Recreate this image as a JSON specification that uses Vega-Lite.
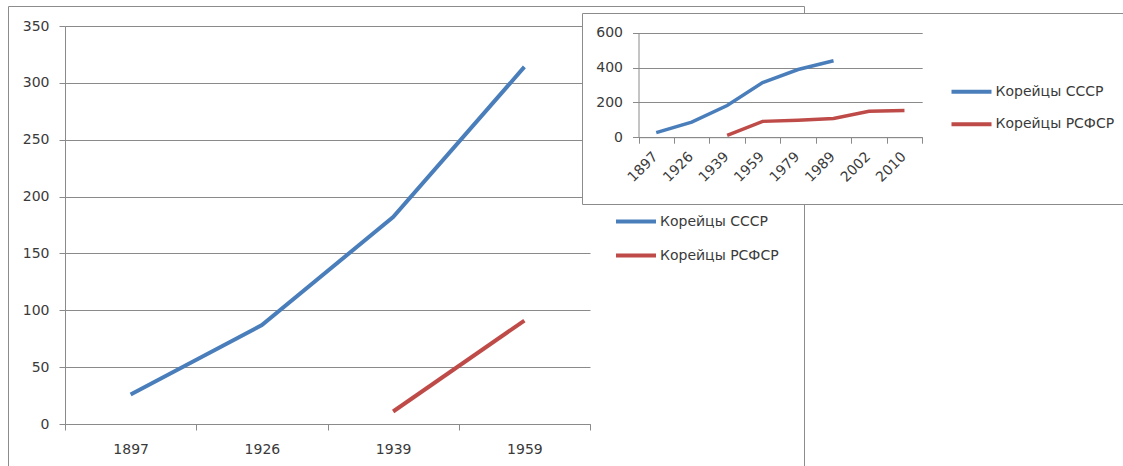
{
  "$schema": "https://vega.github.io/schema/vega-lite/v6.json",
  "padding": {"left": 7, "top": 5, "right": 0, "bottom": 0},
  "background": "white",
  "config": {
    "font": "DejaVu Sans",
    "axis": {"labelFont": "DejaVu Sans", "labelFontSize": 14, "labelColor": "#3a3a3a", "domainColor": "#8a8a8a", "tickColor": "#8a8a8a", "gridColor": "#8a8a8a", "gridOpacity": 1, "domainWidth": 1, "tickWidth": 1, "gridWidth": 1, "title": null},
    "legend": {"labelFont": "DejaVu Sans", "labelFontSize": 14, "labelColor": "#3a3a3a", "symbolType": "stroke", "symbolSize": 1600, "symbolStrokeWidth": 4, "labelOffset": 2, "padding": 0, "title": null},
    "view": {"stroke": "#8c8c8c"}
  },
  "datasets": {
    "main": [
      {"year": "1897", "series": "Корейцы СССР", "value": 26},
      {"year": "1926", "series": "Корейцы СССР", "value": 87},
      {"year": "1939", "series": "Корейцы СССР", "value": 182},
      {"year": "1959", "series": "Корейцы СССР", "value": 314},
      {"year": "1939", "series": "Корейцы РСФСР", "value": 11},
      {"year": "1959", "series": "Корейцы РСФСР", "value": 91}
    ],
    "inset": [
      {"year": "1897", "series": "Корейцы СССР", "value": 26},
      {"year": "1926", "series": "Корейцы СССР", "value": 87},
      {"year": "1939", "series": "Корейцы СССР", "value": 182},
      {"year": "1959", "series": "Корейцы СССР", "value": 314},
      {"year": "1979", "series": "Корейцы СССР", "value": 389},
      {"year": "1989", "series": "Корейцы СССР", "value": 439},
      {"year": "1939", "series": "Корейцы РСФСР", "value": 11},
      {"year": "1959", "series": "Корейцы РСФСР", "value": 91},
      {"year": "1979", "series": "Корейцы РСФСР", "value": 97},
      {"year": "1989", "series": "Корейцы РСФСР", "value": 107},
      {"year": "2002", "series": "Корейцы РСФСР", "value": 149},
      {"year": "2010", "series": "Корейцы РСФСР", "value": 153}
    ]
  },
  "columns": 2,
  "align": "none",
  "spacing": -229,
  "resolve": {"scale": {"color": "independent", "x": "independent", "y": "independent"}, "legend": {"color": "independent"}},
  "concat": [
    {
      "width": 796,
      "height": 460.5,
      "view": {"fill": "white", "stroke": "#8c8c8c"},
      "data": {"name": "main"},
      "mark": {"type": "line", "strokeWidth": 4},
      "encoding": {
        "x": {"field": "year", "type": "ordinal",
          "scale": {"type": "band", "domain": ["1897", "1926", "1939", "1959"], "range": [57, 582], "paddingInner": 0, "paddingOuter": 0},
          "axis": {"offset": -42.5, "tickBand": "extent", "tickSize": 6, "labelPadding": 12, "labelAngle": 0}},
        "y": {"field": "value", "type": "quantitative",
          "scale": {"domain": [0, 350], "range": [418, 20], "nice": false},
          "axis": {"offset": -57, "values": [0, 50, 100, 150, 200, 250, 300, 350], "grid": true, "tickSize": 6, "labelPadding": 10}},
        "color": {"field": "series", "type": "nominal",
          "scale": {"domain": ["Корейцы СССР", "Корейцы РСФСР"], "range": ["#4A7EBB", "#BE4B48"]},
          "legend": {"orient": "none", "legendX": 606, "legendY": 193.5, "rowPadding": 4}}
      }
    },
    {
      "spacing": 5,
      "resolve": {"scale": {"color": "independent", "x": "independent", "y": "independent"}, "legend": {"color": "independent"}},
      "vconcat": [
        {
          "width": 1,
          "height": 1,
          "view": {"fill": null, "stroke": null},
          "data": {"values": []},
          "mark": "point"
        },
        {
          "width": 545,
          "height": 191,
          "view": {"fill": "white", "stroke": "#8c8c8c"},
          "data": {"name": "inset"},
          "mark": {"type": "line", "strokeWidth": 3.5},
          "encoding": {
            "x": {"field": "year", "type": "ordinal",
              "scale": {"type": "band", "domain": ["1897", "1926", "1939", "1959", "1979", "1989", "2002", "2010"], "range": [56.5, 340.2], "paddingInner": 0, "paddingOuter": 0},
              "axis": {"offset": -66.8, "tickBand": "extent", "tickSize": 6, "labelPadding": 11, "labelAngle": -45, "labelAlign": "right", "labelBaseline": "middle", "labelOffset": -1}},
            "y": {"field": "value", "type": "quantitative",
              "scale": {"domain": [0, 600], "range": [124.2, 19.8], "nice": false},
              "axis": {"offset": -56.5, "values": [0, 200, 400, 600], "grid": true, "tickSize": 6, "labelPadding": 10}},
            "color": {"field": "series", "type": "nominal",
              "scale": {"domain": ["Корейцы СССР", "Корейцы РСФСР"], "range": ["#4A7EBB", "#BE4B48"]},
              "legend": {"orient": "none", "legendX": 367.5, "legendY": 56.7, "rowPadding": 2.6}}
          }
        }
      ]
    }
  ]
}
